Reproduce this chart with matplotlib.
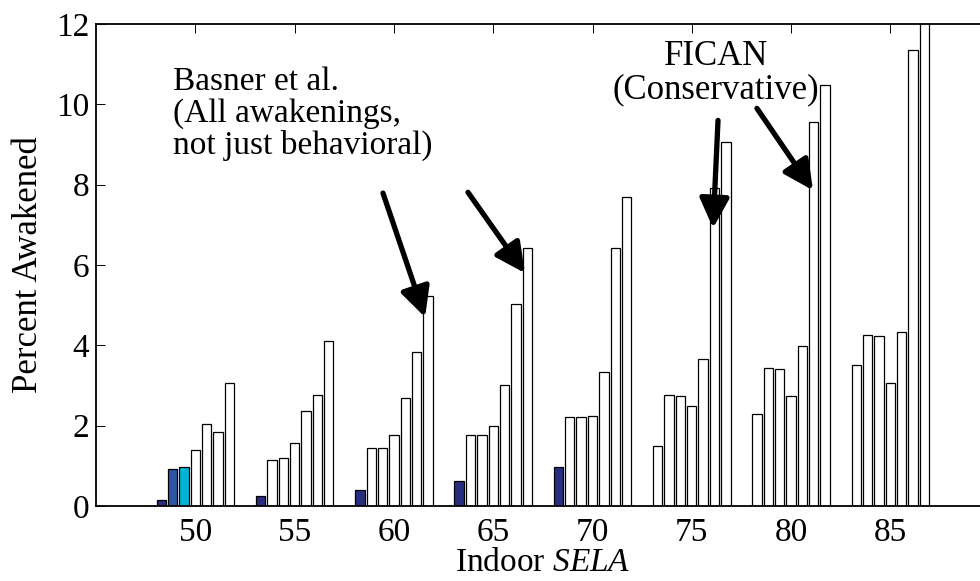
import matplotlib
matplotlib.use("Agg")
import matplotlib.pyplot as plt
import numpy as np

plt.rcParams['font.family'] = ['Liberation Serif', 'DejaVu Serif']
plt.rcParams['mathtext.fontset'] = 'custom'
plt.rcParams['mathtext.it'] = 'Liberation Serif:italic'
plt.rcParams['mathtext.rm'] = 'Liberation Serif'

# Indoor SELA levels (group centres)
sela_levels = [50, 55, 60, 65, 70, 75, 80, 85]

# Percent awakened, one list per bar position within each group
pos1 = [0.16, 0.25, 0.41, 0.62, 0.96, 1.49, 2.30, 3.52]
pos2 = [0.92, 1.15, 1.45, 1.78, 2.22, 2.76, 3.43, 4.26]
pos3 = [0.98, 1.19, 1.45, 1.78, 2.22, 2.75, 3.42, 4.23]
pos4 = [1.39, 1.57, 1.77, 1.99, 2.23, 2.49, 2.75, 3.05]
pos5 = [2.05, 2.37, 2.70, 3.02, 3.34, 3.66, 3.99, 4.32]
pos6 = [1.85, 2.76, 3.83, 5.04, 6.42, 7.92, 9.56, 11.35]
pos7 = [3.05, 4.10, 5.22, 6.42, 7.70, 9.05, 10.49, 13.00]
series = [pos1, pos2, pos3, pos4, pos5, pos6, pos7]

yticks = [0, 2, 4, 6, 8, 10, 12]

# Fill colours: white by default, with a few measured-study bars highlighted
navy, blue, cyan = "#272d7f", "#2c56a4", "#00b4d8"
fill = [["white"] * len(sela_levels) for _ in series]
for g in range(5):
    fill[0][g] = navy
fill[1][0] = blue
fill[2][0] = cyan

fig = plt.figure(figsize=(9.8, 5.81), dpi=100)
ax = fig.add_axes([96 / 980, 75 / 581, 893.7 / 980, 482 / 581])

n = len(series)
pitch = 4.0 / n
width = 0.47
x = np.array(sela_levels, dtype=float)
for i, vals in enumerate(series):
    offs = (i - (n - 1) / 2) * pitch
    ax.bar(x + offs, vals, width=width, color=fill[i],
           edgecolor="black", linewidth=0.9, zorder=2)

ax.set_xlim(45, 90)
ax.set_ylim(0, 12)
ax.set_xticks(sela_levels)
ax.set_yticks(yticks)
ax.tick_params(direction="in", length=6.5, width=0.7, labelsize=24,
               top=True, right=True, pad=5)
ax.tick_params(axis="x", pad=8)
for s in ax.spines.values():
    s.set_linewidth(1.3)

ax.set_xlabel("Indoor $\\mathit{SELA}$", fontsize=24, labelpad=0)
ax.set_ylabel("Percent Awakened", fontsize=25, labelpad=8)

ax.text(48.9, 10.95, "Basner et al.\n(All awakenings,\nnot just behavioral)",
        fontsize=24, ha="left", va="top", linespacing=1.05)
ax.text(76.2, 11.6, "FICAN\n(Conservative)", fontsize=25, ha="center",
        va="top", linespacing=1.0, multialignment="center")

arrow_kw = dict(arrowstyle="-|>,head_length=0.9,head_width=0.45",
                lw=3.8, color="black", mutation_scale=20,
                shrinkA=0, shrinkB=0)
arrows = [((59.45, 7.79), (61.57, 4.70)),
          ((63.73, 7.81), (66.60, 5.80)),
          ((76.32, 9.60), (76.07, 6.92)),
          ((78.28, 9.90), (81.10, 7.86))]
for start, tip in arrows:
    ax.annotate("", xy=tip, xytext=start, arrowprops=arrow_kw)

fig.savefig("out.png", dpi=100)
